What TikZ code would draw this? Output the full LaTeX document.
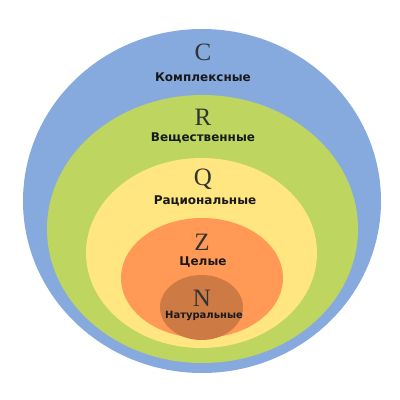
\documentclass[tikz,border=0pt]{standalone}
\usepackage{fontspec}
\setmainfont{DejaVu Sans}
\newfontfamily\letterfont{Liberation Serif}
\usetikzlibrary{shapes.geometric}

\definecolor{setC}{HTML}{87AADE}
\definecolor{setR}{HTML}{BED560}
\definecolor{setQ}{HTML}{FFE680}
\definecolor{setZ}{HTML}{FF9955}
\definecolor{setN}{HTML}{CD7A45}

\tikzset{
  numset/.style={ellipse, inner sep=0pt, draw=none},
  setletter/.style={inner sep=0pt, text=black!80, font=\letterfont\fontsize{25}{25}\selectfont},
  setname/.style={inner sep=0pt, text=black!90, font=\bfseries\fontsize{12}{14}\selectfont}
}

\begin{document}
\begin{tikzpicture}[x=1pt,y=-1pt]
\useasboundingbox (0,0) rectangle (400,400);
% nested sets, outer to inner
\node [numset, fill=setC, minimum width=358pt, minimum height=344pt] (C) at (202,201) {};
\node [numset, fill=setR, minimum width=311pt, minimum height=268pt] (R) at (202.5,229) {};
\node [numset, fill=setQ, minimum width=231pt, minimum height=190pt] (Q) at (201.5,253) {};
\node [numset, fill=setZ, minimum width=162pt, minimum height=120pt] (Z) at (202,278) {};
\node [numset, fill=setN, minimum width=83pt, minimum height=65pt] (N) at (201.5,307.5) {};
% labels
\node [setletter] (lC) at (203,52) {C};
\node [setname] (tC) at (203,77) {Комплексные};
\node [setletter] (lR) at (203,117) {R};
\node [setname] (tR) at (203,138) {Вещественные};
\node [setletter] (lQ) at (203,179) {Q};
\node [setname] (tQ) at (205,201) {Рациональные};
\node [setletter] (lZ) at (202,242) {Z};
\node [setname] (tZ) at (203,262) {Целые};
\node [setletter] (lN) at (202,298) {N};
\node [setname, font=\bfseries\fontsize{10}{12}\selectfont] (tN) at (204,316) {Натуральные};
\end{tikzpicture}
\end{document}
